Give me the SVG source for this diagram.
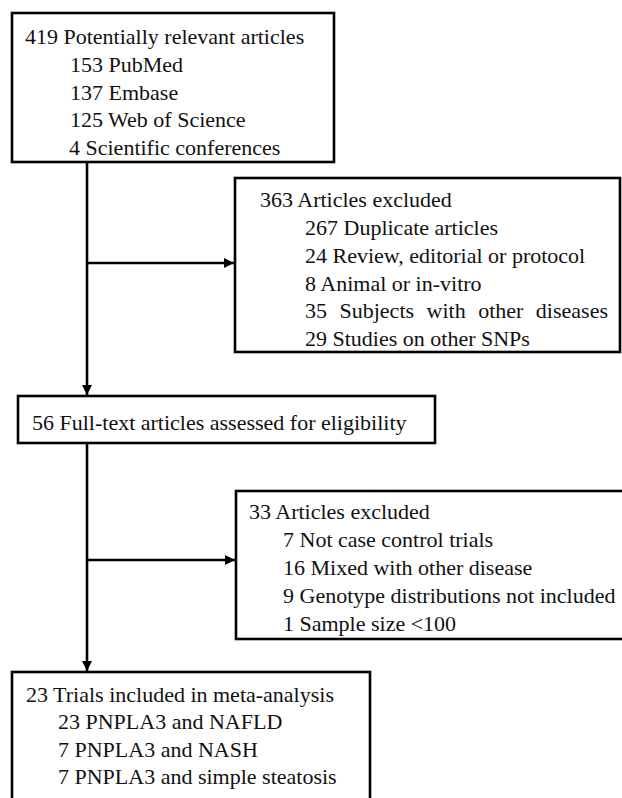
<svg xmlns="http://www.w3.org/2000/svg" width="622" height="798" viewBox="0 0 622 798">
<style>
.box{fill:#fff;stroke:#000;stroke-width:2.6}
.t{font-family:'Liberation Serif','Times New Roman',Tinos,'DejaVu Serif',serif;font-size:22px;fill:#111}
.c{stroke:#000;stroke-width:2.6;fill:none}
</style>
<defs>
<marker id="ah" viewBox="0 0 10 10" refX="10" refY="5" markerWidth="4" markerHeight="4" orient="auto" markerUnits="strokeWidth">
<path d="M0,0 L10,5 L0,10 z" fill="#000"/>
</marker>
</defs>
<rect width="622" height="798" fill="#fff"/>
<g id="connectors">
<line class="c" x1="87" y1="162" x2="87" y2="395" marker-end="url(#ah)"/>
<line class="c" x1="87" y1="263" x2="234" y2="263" marker-end="url(#ah)"/>
<line class="c" x1="87" y1="443" x2="87" y2="671" marker-end="url(#ah)"/>
<line class="c" x1="87" y1="560" x2="235" y2="560" marker-end="url(#ah)"/>
</g>
<g font-family="Liberation Serif, Times New Roman, serif">
<g id="n1">
<rect class="box" x="12" y="13" width="322" height="149"/>
<text class="t" x="25" y="44">419 Potentially relevant articles</text>
<text class="t" x="70" y="72">153 PubMed</text>
<text class="t" x="70" y="99.5">137 Embase</text>
<text class="t" x="70" y="127">125 Web of Science</text>
<text class="t" x="69" y="155">4 Scientific conferences</text>
</g>
<g id="n2">
<rect class="box" x="235" y="178" width="385" height="174"/>
<text class="t" x="260" y="207">363 Articles excluded</text>
<text class="t" x="305" y="235">267 Duplicate articles</text>
<text class="t" x="305" y="263">24 Review, editorial or protocol</text>
<text class="t" x="305" y="291">8 Animal or in-vitro</text>
<text class="t" x="305" y="318" word-spacing="7">35 Subjects with other diseases</text>
<text class="t" x="305" y="346">29 Studies on other SNPs</text>
</g>
<g id="n3">
<rect class="box" x="18" y="396" width="417" height="47"/>
<text class="t" x="32" y="430">56 Full-text articles assessed for eligibility</text>
</g>
<g id="n4">
<rect class="box" x="236" y="491" width="390" height="148"/>
<text class="t" x="249" y="519">33 Articles excluded</text>
<text class="t" x="283" y="547">7 Not case control trials</text>
<text class="t" x="283" y="575">16 Mixed with other disease</text>
<text class="t" x="283" y="603">9 Genotype distributions not included</text>
<text class="t" x="283" y="631">1 Sample size &lt;100</text>
</g>
<g id="n5">
<rect class="box" x="12" y="672" width="358" height="140"/>
<text class="t" x="26" y="702">23 Trials included in meta-analysis</text>
<text class="t" x="58" y="729">23 PNPLA3 and NAFLD</text>
<text class="t" x="58" y="757">7 PNPLA3 and NASH</text>
<text class="t" x="58" y="784">7 PNPLA3 and simple steatosis</text>
</g>
</g>
</svg>
